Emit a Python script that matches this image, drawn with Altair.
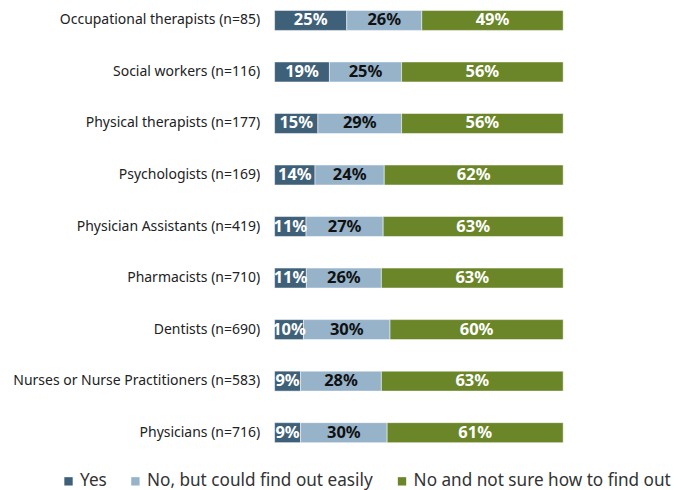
import altair as alt
import pandas as pd

categories = [
    "Occupational therapists (n=85)",
    "Social workers (n=116)",
    "Physical therapists (n=177)",
    "Psychologists (n=169)",
    "Physician Assistants (n=419)",
    "Pharmacists (n=710)",
    "Dentists (n=690)",
    "Nurses or Nurse Practitioners (n=583)",
    "Physicians (n=716)",
]
series = ["Yes", "No, but could find out easily", "No and not sure how to find out"]
yes = [25, 19, 15, 14, 11, 11, 10, 9, 9]
no_easy = [26, 25, 29, 24, 27, 26, 30, 28, 30]
no_unsure = [49, 56, 56, 62, 63, 63, 60, 63, 61]
colors = ["#3F6079", "#96B3CA", "#6A8628"]

rows = []
for i, c in enumerate(categories):
    for j, (s, vals) in enumerate(zip(series, [yes, no_easy, no_unsure])):
        rows.append({"category": c, "series": s, "order": j, "value": vals[i]})
df = pd.DataFrame(rows)

base = alt.Chart(df).transform_stack(
    stack="value", groupby=["category"], as_=["x0", "x1"],
    sort=[alt.SortField("order", order="ascending")], offset="normalize"
).transform_calculate(
    xm="(datum.x0 + datum.x1) / 2",
    label="datum.value + '%'"
)

xscale = alt.Scale(domain=[0, 1], nice=False, zero=True)

yenc = alt.Y("category:N", sort=categories,
             scale=alt.Scale(paddingInner=0.612, paddingOuter=0.04),
             axis=alt.Axis(title=None, domain=False, ticks=False, labelPadding=15,
                           labelFont="Noto Sans", labelFontSize=14, labelLimit=400,
                           labelColor="#222222"))

bars = base.mark_bar(stroke="white", strokeWidth=0.5).encode(
    x=alt.X("x0:Q", scale=xscale, axis=None),
    x2="x1:Q",
    y=yenc,
    color=alt.Color("series:N", sort=series,
                    scale=alt.Scale(domain=series, range=colors),
                    legend=alt.Legend(title=None, orient="none", direction="horizontal",
                                      legendX=-215, legendY=465,
                                      symbolType="square", symbolSize=70,
                                      symbolStrokeWidth=0,
                                      labelFont="Noto Sans", labelFontSize=17.2,
                                      labelColor="#333333",
                                      columnPadding=20, labelOffset=3,
                                      labelLimit=400)),
)

text = base.mark_text(font="Noto Sans", fontSize=16.5, fontWeight="bold").encode(
    x=alt.X("xm:Q", scale=xscale, axis=None),
    y=alt.Y("category:N", sort=categories),
    text="label:N",
    color=alt.condition(alt.datum.series == "No, but could find out easily",
                        alt.value("#111111"), alt.value("white")),
)

chart = (bars + text).properties(
    width=289, height=437,
    padding={"left": 267, "top": 0, "right": 118, "bottom": 45},
    autosize="none",
).configure_view(stroke=None)

chart.save("out.html", embed_options={"renderer": "svg", "actions": False})
